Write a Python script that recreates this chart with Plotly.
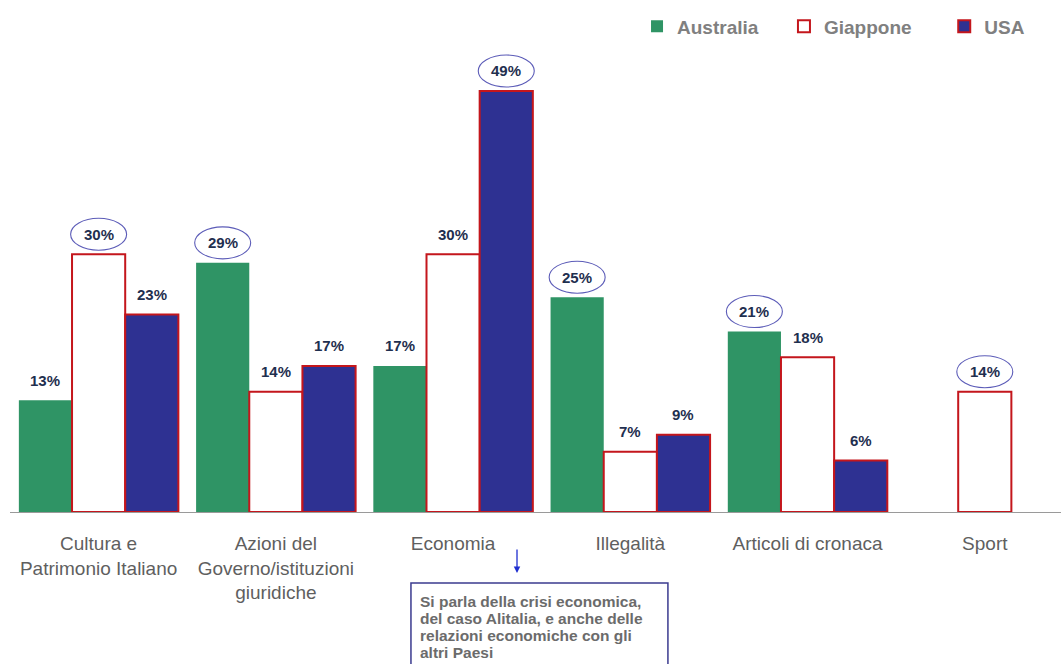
import plotly.graph_objects as go

# Categories and shares (%) per country
categories = [
    "Cultura e<br>Patrimonio Italiano",
    "Azioni del<br>Governo/istituzioni<br>giuridiche",
    "Economia",
    "Illegalità",
    "Articoli di cronaca",
    "Sport",
]
australia = [13, 29, 17, 25, 21, None]
giappone = [30, 14, 30, 7, 18, 14]
usa = [23, 17, 49, 9, 6, None]

series_names = ["Australia", "Giappone", "USA"]
note_lines = [
    "Si parla della crisi economica,",
    "del caso Alitalia, e anche delle",
    "relazioni economiche con gli",
    "altri Paesi",
]

GREEN = "#2f9465"
NAVY = "#2e3192"
RED = "#c4161c"
LABEL = "#1f2f4f"
RING = "#5c5cb8"
FONT = "Liberation Sans, Arial, sans-serif"

series = [australia, giappone, usa]
styles = [
    dict(color=GREEN, line=dict(color=GREEN, width=0)),
    dict(color="white", line=dict(color=RED, width=2)),
    dict(color=NAVY, line=dict(color=RED, width=2)),
]
legend_ids = ["legend", "legend2", "legend3"]
legend_x = [0.5966, 0.7364, 0.8889]

fig = go.Figure()
idx = list(range(len(categories)))
for name, vals, st, lg in zip(series_names, series, styles, legend_ids):
    fig.add_trace(go.Bar(name=f"<b>{name}</b>", x=idx, y=vals, marker=st,
                         width=0.3, legend=lg, showlegend=True))

# value labels above bars; the largest share in each category is ringed
offsets = [-0.3, 0.0, 0.3]
for ci in idx:
    vals = [s[ci] for s in series]
    top = max(v for v in vals if v is not None)
    for si, v in enumerate(vals):
        if v is None:
            continue
        xpos = ci + offsets[si]
        fig.add_annotation(x=xpos, y=v, text=f"<b>{v}%</b>", showarrow=False,
                           yshift=20, font=dict(size=15, color=LABEL, family=FONT))
        if v == top:
            fig.add_shape(type="circle", xref="x", yref="y",
                          xsizemode="pixel", ysizemode="pixel",
                          xanchor=xpos, yanchor=v,
                          x0=-28, x1=28, y0=4, y1=36,
                          line=dict(color=RING, width=1.1))

# note box under "Economia"
fig.add_shape(type="rect", xref="paper", yref="paper",
              x0=0.3815, x1=0.626, y0=-0.149, y1=-0.34,
              line=dict(color="#3b3b8f", width=1.5), fillcolor="white")
for i, line in enumerate(note_lines):
    fig.add_annotation(xref="paper", yref="paper", x=0.388, y=-0.187,
                       yshift=-17 * i, xanchor="left", yanchor="middle",
                       align="left", showarrow=False, text=f"<b>{line}</b>",
                       font=dict(size=15.5, color="#6b6b6b", family=FONT))
fig.add_annotation(xref="paper", yref="paper", x=0.4824, y=-0.128,
                   ax=0, ay=-25, text="", showarrow=True, arrowhead=2, arrowsize=1,
                   arrowwidth=1.3, arrowcolor="#1f2fd0")

legend_style = dict(orientation="h", xanchor="left", y=1.02, yanchor="middle",
                    font=dict(size=19, color="#808080", family=FONT),
                    itemwidth=30, itemclick=False, bgcolor="rgba(0,0,0,0)",
                    visible=True)

fig.update_layout(
    width=1061, height=664,
    margin=dict(l=10, r=0, t=36, b=152),
    showlegend=True,
    barmode="group", bargap=0.1, bargroupgap=0,
    plot_bgcolor="white", paper_bgcolor="white",
    font=dict(family=FONT),
    legend=dict(x=legend_x[0], **legend_style),
    legend2=dict(x=legend_x[1], **legend_style),
    legend3=dict(x=legend_x[2], **legend_style),
    xaxis=dict(tickmode="array", tickvals=idx, ticktext=categories,
               range=[-0.5, 5.43], showline=True, linecolor="#9a9a9a", linewidth=1,
               ticks="", showgrid=False, zeroline=False,
               tickfont=dict(size=19, color="#5f5f5f", family=FONT),
               ticklabelstandoff=14),
    yaxis=dict(range=[0, 55.4], visible=False, showgrid=False, zeroline=False),
)

fig.write_html("out.html")
